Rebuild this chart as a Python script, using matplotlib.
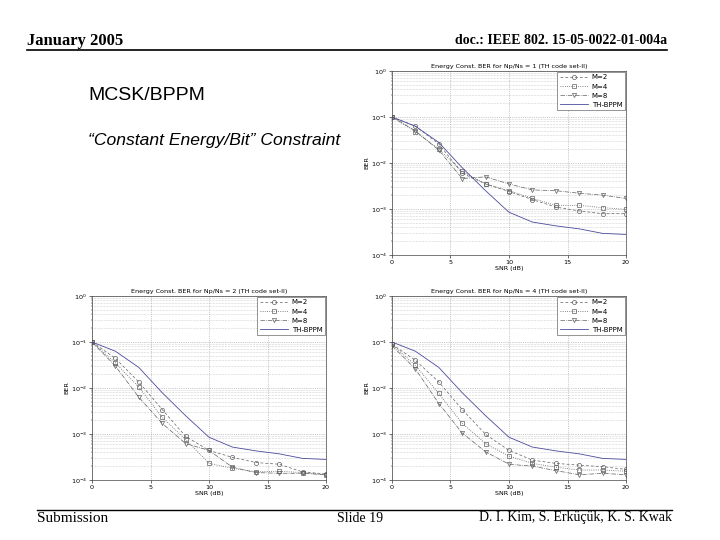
import matplotlib
matplotlib.use('Agg')
import matplotlib.pyplot as plt
from matplotlib.lines import Line2D

# --- data ---
snr = [0, 2, 4, 6, 8, 10, 12, 14, 16, 18, 20]

th_bppm = [0.1, 0.063, 0.028, 7.9e-3, 2.5e-3, 8.5e-4, 5.2e-4, 4.3e-4, 3.7e-4, 2.95e-4, 2.8e-4]

# Np/Ns = 1
np1_m2 = [0.1, 0.063, 0.026, 6.0e-3, 3.5e-3, 2.4e-3, 1.6e-3, 1.1e-3, 9.1e-4, 7.9e-4, 7.9e-4]
np1_m4 = [0.1, 0.048, 0.020, 6.6e-3, 3.5e-3, 2.5e-3, 1.7e-3, 1.2e-3, 1.2e-3, 1.07e-3, 9.8e-4]
np1_m8 = [0.1, 0.050, 0.019, 4.6e-3, 5.0e-3, 3.5e-3, 2.6e-3, 2.5e-3, 2.2e-3, 2.0e-3, 1.7e-3]

# Np/Ns = 2
np2_m2 = [0.1, 0.044, 0.0135, 3.4e-3, 8.9e-4, 4.4e-4, 3.1e-4, 2.4e-4, 2.2e-4, 1.5e-4, 1.35e-4]
np2_m4 = [0.1, 0.035, 0.0105, 2.3e-3, 7.6e-4, 2.3e-4, 1.8e-4, 1.5e-4, 1.55e-4, 1.45e-4, 1.3e-4]
np2_m8 = [0.1, 0.030, 6.3e-3, 1.7e-3, 6.2e-4, 4.4e-4, 1.9e-4, 1.45e-4, 1.4e-4, 1.4e-4, 1.3e-4]

# Np/Ns = 4
np4_m2 = [0.089, 0.040, 0.0135, 3.4e-3, 9.8e-4, 4.4e-4, 2.7e-4, 2.3e-4, 2.1e-4, 1.95e-4, 1.7e-4]
np4_m4 = [0.089, 0.031, 7.6e-3, 1.7e-3, 6.2e-4, 3.3e-4, 2.3e-4, 1.9e-4, 1.65e-4, 1.65e-4, 1.55e-4]
np4_m8 = [0.083, 0.026, 4.6e-3, 1.05e-3, 4.1e-4, 2.2e-4, 2.0e-4, 1.6e-4, 1.3e-4, 1.4e-4, 1.3e-4]

legend_labels = ['M=2', 'M=4', 'M=8', 'TH-BPPM']
panels = [
    ('Energy Const. BER for Np/Ns = 1 (TH code set-II)', np1_m2, np1_m4, np1_m8),
    ('Energy Const. BER for Np/Ns = 2 (TH code set-II)', np2_m2, np2_m4, np2_m8),
    ('Energy Const. BER for Np/Ns = 4 (TH code set-II)', np4_m2, np4_m4, np4_m8),
]

# --- figure ---
W, H = 720, 540
fig = plt.figure(figsize=(7.2, 5.4), dpi=100)


def px_axes(x0, y0, x1, y1):
    return fig.add_axes([x0 / W, 1 - y1 / H, (x1 - x0) / W, (y1 - y0) / H])


ax_boxes = [(392, 71, 626, 255), (92, 296, 326, 480), (392, 296, 626, 480)]
gray = '#606060'
blue = '#4b4b9c'
fs = 4.6

# line styles: M=2 dashed/circle, M=4 dotted/square, M=8 dash-dot/triangle
styles = [
    dict(color=gray, ls='--', lw=0.5, marker='o', ms=3, mfc='none', mew=0.5, dashes=(4, 3)),
    dict(color=gray, ls=':', lw=0.6, marker='s', ms=3, mfc='none', mew=0.5),
    dict(color=gray, ls='-.', lw=0.5, marker='v', ms=3, mfc='none', mew=0.5),
    dict(color=blue, ls='-', lw=0.6),
]

for (x0, y0, x1, y1), (title, m2, m4, m8) in zip(ax_boxes, panels):
    ax = px_axes(x0, y0, x1, y1)
    for ys, st in zip([m2, m4, m8, th_bppm], styles):
        ax.semilogy(snr, ys, **st)
    ax.set_xlim(0, 20)
    ax.set_ylim(1e-4, 1e0)
    ax.set_xticks([0, 5, 10, 15, 20])
    ax.grid(True, which='major', ls=':', lw=0.5, color='#999999')
    ax.grid(True, which='minor', axis='y', ls=':', lw=0.4, color='#aaaaaa')
    ax.tick_params(labelsize=fs, length=2, width=0.4, pad=1.5)
    ax.tick_params(which='minor', length=1, width=0.3)
    for s in ax.spines.values():
        s.set_linewidth(0.5)
        s.set_color('#444444')
    ax.set_title(title, fontsize=fs, pad=2)
    ax.set_xlabel('SNR (dB)', fontsize=fs, labelpad=0.5)
    ax.set_ylabel('BER', fontsize=fs, labelpad=1)
    handles = [Line2D([], [], **st) for st in styles]
    leg = ax.legend(handles, legend_labels, loc='upper right', fontsize=5,
                    fancybox=False, framealpha=1, edgecolor='#444444',
                    handlelength=4.0, handletextpad=0.6, borderpad=0.35,
                    labelspacing=0.45, borderaxespad=0.15)
    leg.get_frame().set_linewidth(0.4)

# --- slide decoration ---
serif = 'Liberation Serif'
fig.text(27 / W, 1 - 41 / H, 'January 2005', family=serif, weight='bold',
         fontsize=12, va='center', ha='left')
fig.text(667 / W, 1 - 41 / H, 'doc.: IEEE 802. 15-05-0022-01-004a', family=serif,
         weight='bold', fontsize=10, va='center', ha='right')
fig.add_artist(Line2D([27 / W, 667 / W], [1 - 50 / H, 1 - 50 / H], color='black', lw=1.2))
fig.add_artist(Line2D([37 / W, 672 / W], [1 - 510 / H, 1 - 510 / H], color='black', lw=1.0))
fig.text(37 / W, 1 - 518 / H, 'Submission', family=serif, fontsize=11,
         va='center', ha='left')
fig.text(360 / W, 1 - 518 / H, 'Slide 19', family=serif, fontsize=10,
         va='center', ha='center')
fig.text(672 / W, 1 - 518 / H, 'D. I. Kim, S. Erküçük, K. S. Kwak', family=serif,
         fontsize=10, va='center', ha='right')

fig.text(88 / W, 1 - 96 / H, 'MCSK/BPPM', family='Liberation Sans', fontsize=14,
         va='center', ha='left')
fig.text(88 / W, 1 - 141 / H, '\u201cConstant Energy/Bit\u201d Constraint',
         family='Liberation Sans', style='italic', fontsize=12.6,
         va='center', ha='left')

fig.savefig('out.png', dpi=100)
